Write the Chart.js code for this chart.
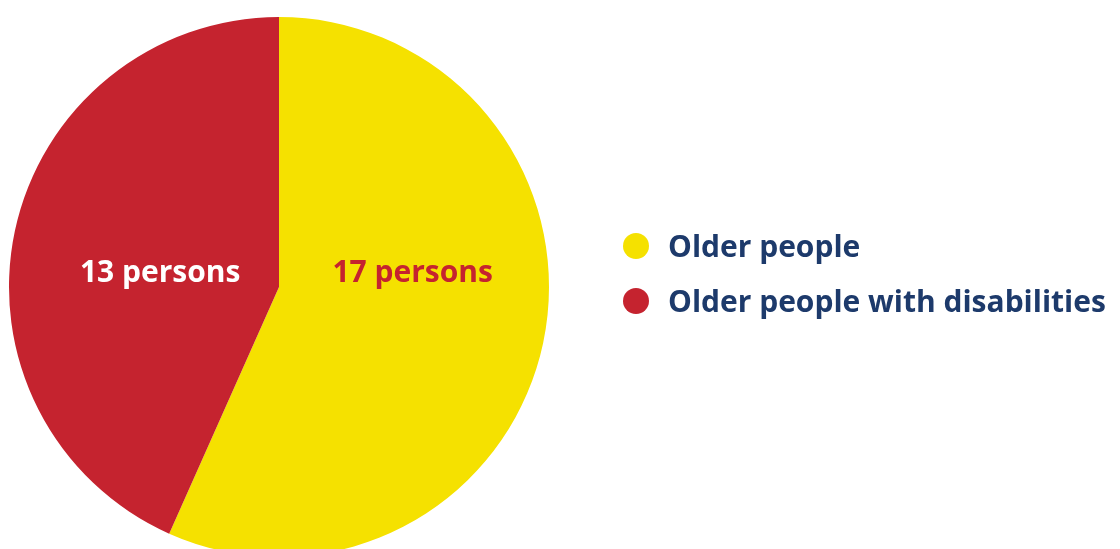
<!DOCTYPE html>
<html>
<head>
<meta charset="utf-8">
<script src="https://cdn.jsdelivr.net/npm/chart.js@4/dist/chart.umd.min.js"></script>
<style>
    html, body { margin: 0; padding: 0; background: #fff; overflow: hidden; }
    #wrap { position: relative; width: 1120px; height: 549px; overflow: hidden; }
    #pie { position: absolute; left: 0; top: 0; }
    #legend { position: absolute; left: 623px; top: 218px; width: 497px; white-space: nowrap; font-family: "Open Sans", sans-serif; font-weight: 700; font-size: 30px; color: #1d3a6b; }
    #legend div { display: flex; align-items: center; height: 55px; }
    #legend span.dot { flex: none; width: 26px; height: 26px; border-radius: 50%; margin-right: 19px; display: inline-block; }
</style>
</head>
<body>
<div id="wrap">
    <canvas id="pie" width="1120" height="580"></canvas>
    <div id="legend"></div>
</div>
<script>
'use strict';

// Kategorie a hodnoty
const categories = ['Older people', 'Older people with disabilities'];
const persons = [17, 13];
const sliceColors = ['#f5e100', '#c5232f'];
const labelColors = ['#c5232f', '#ffffff'];

// Popisky uvnitř výsečí
const sliceLabels = {
    id: 'sliceLabels',
    afterDatasetsDraw: (chart) => {
        const ctx = chart.ctx;
        const arcs = chart.getDatasetMeta(0).data;
        const offsets = [0.495, -0.44]; // vodorovný posun vůči poloměru
        ctx.save();
        ctx.font = '700 30px "Open Sans", sans-serif';
        ctx.textAlign = 'center';
        ctx.textBaseline = 'middle';
        arcs.forEach((arc, i) => {
            const r = arc.outerRadius;
            ctx.fillStyle = labelColors[i];
            ctx.fillText(persons[i] + ' persons', arc.x + offsets[i] * r, arc.y - 0.05 * r);
        });
        ctx.restore();
    }
};

const chart = new Chart(document.getElementById('pie').getContext('2d'), {
    type: 'pie',
    data: {
        labels: categories,
        datasets: [{
            data: persons,
            backgroundColor: sliceColors,
            borderWidth: 0
        }]
    },
    options: {
        responsive: false,
        animation: false,
        events: [],
        layout: {
            padding: { left: 9, right: 571, top: 16, bottom: 22 }
        },
        plugins: {
            legend: { display: false },
            tooltip: { enabled: false }
        }
    },
    plugins: [sliceLabels]
});

// Legenda vpravo
const legend = document.getElementById('legend');
categories.forEach((name, i) => {
    const row = document.createElement('div');
    const dot = document.createElement('span');
    dot.className = 'dot';
    dot.style.background = sliceColors[i];
    row.appendChild(dot);
    row.appendChild(document.createTextNode(name));
    legend.appendChild(row);
});
</script>
</body>
</html>
